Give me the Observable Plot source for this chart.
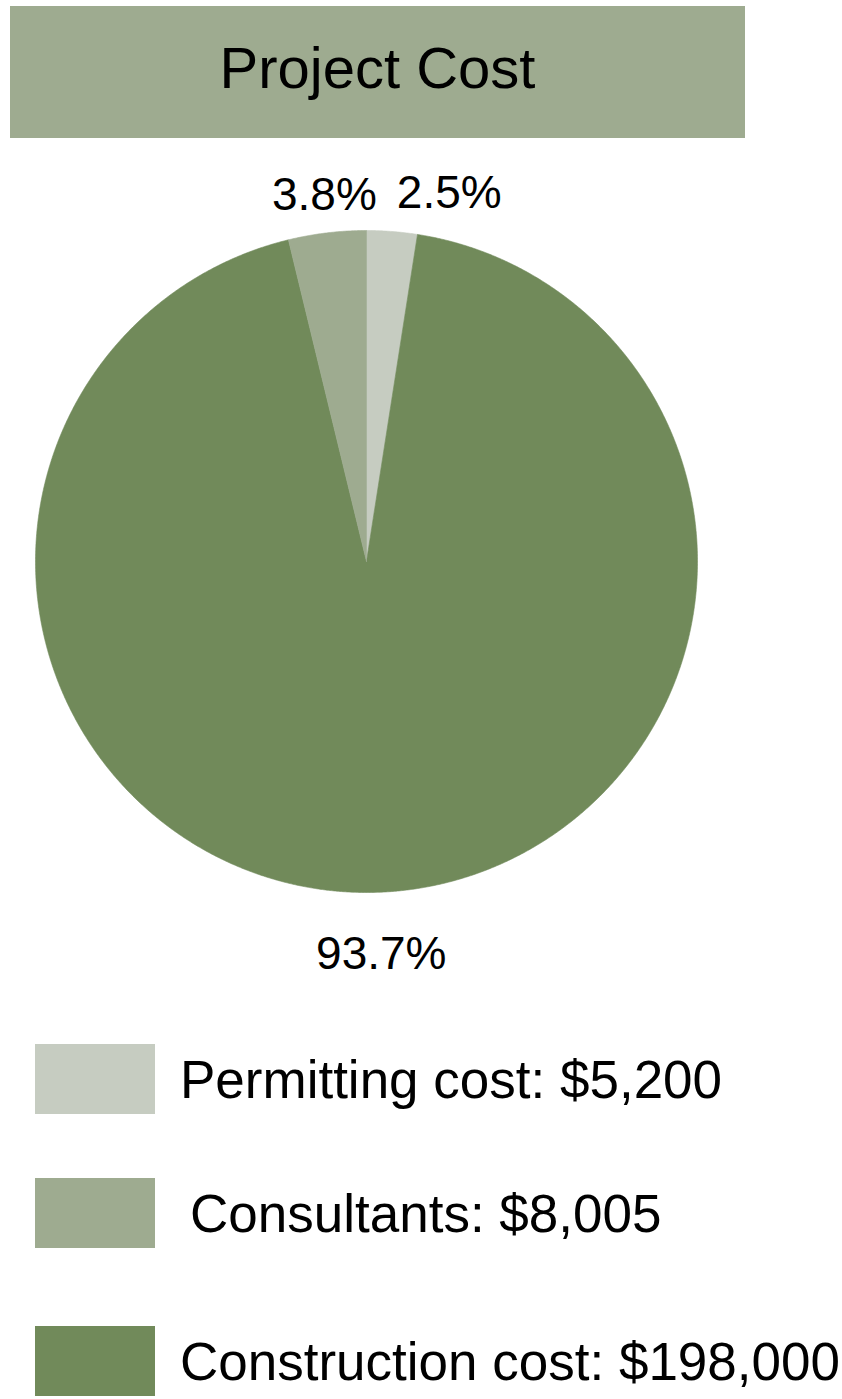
<!DOCTYPE html>
<html><head><meta charset="utf-8">
<script src="https://cdn.jsdelivr.net/npm/d3@7"></script>
<script src="https://cdn.jsdelivr.net/npm/@observablehq/plot@0.6"></script>
<style>
body{margin:0;background:#fff;font-family:"Liberation Sans",Arial,sans-serif;color:#000;}
#wrap{position:relative;width:842px;height:1399px;overflow:hidden;}
#title{position:absolute;left:10px;top:6px;width:735px;height:123px;padding-bottom:9px;background:#9eab90;display:flex;align-items:center;justify-content:center;font-size:58px;}
#chart{position:absolute;left:0;top:150px;}
.row{position:absolute;left:35px;display:flex;align-items:center;}
.sw{width:120px;height:70px;flex:none;}
.lab{font-size:53px;white-space:nowrap;line-height:1;}
</style></head><body>
<div id="wrap">
<div id="title"></div>
<div id="chart"></div>
<div id="legend"></div>
</div>
<script>
// ---- data ----
const title = "Project Cost";
const categories = ["Permitting cost", "Consultants", "Construction cost"];
const values = [5200, 8005, 198000];
const colors = ["#c6ccc1", "#9eab90", "#718a5a"];
const pieOrder = ["Permitting cost", "Construction cost", "Consultants"];

// ---- layout ----
const W = 842, H = 850, cx = 366, cy = 411, R = 331;
const labelR = 1.07, labelGap = 20, labelFont = 46;
const rowTops = [1044, 1178, 1326];
const rowIndent = [25, 35, 25];

document.getElementById("title").textContent = title;

const total = d3.sum(values);
let acc = 0;
const slices = pieOrder.map(c => {
  const i = categories.indexOf(c);
  const a0 = acc / total * 2 * Math.PI;
  acc += values[i];
  const a1 = acc / total * 2 * Math.PI;
  return {category: c, value: values[i], a0, a1, mid: (a0 + a1) / 2,
          label: (values[i] / total * 100).toFixed(1) + "%"};
});

// polygon outline of each slice (sampled arc)
const pts = slices.flatMap(s => {
  const n = Math.max(2, Math.ceil((s.a1 - s.a0) / (Math.PI / 720)));
  const arr = [{category: s.category, x: 0, y: 0}];
  for (let k = 0; k <= n; k++) {
    const a = s.a0 + (s.a1 - s.a0) * k / n;
    arr.push({category: s.category, x: Math.sin(a), y: Math.cos(a)});
  }
  arr.push({category: s.category, x: 0, y: 0});
  return arr;
});

// label positions with simple horizontal dodge
const ctx = document.createElement("canvas").getContext("2d");
ctx.font = `${labelFont}px "Liberation Sans"`;
const labels = slices.map(s => ({...s, lx: Math.sin(s.mid) * labelR, ly: Math.cos(s.mid) * labelR,
  w: ctx.measureText(s.label).width / R}));
const upper = labels.filter(d => d.ly >= 0).sort((a, b) => a.lx - b.lx);
for (let i = 1; i < upper.length; i++) {
  const p = upper[i - 1], c = upper[i];
  const minX = p.lx + p.w / 2 + labelGap / R + c.w / 2;
  if (c.lx < minX) c.lx = minX;
}
const lower = labels.filter(d => d.ly < 0);

const chart = Plot.plot({
  width: W, height: H, margin: 0,
  x: {domain: [-1, 1], range: [cx - R, cx + R], axis: null},
  y: {domain: [-1, 1], range: [cy + R, cy - R], axis: null},
  color: {domain: categories, range: colors},
  style: {fontFamily: '"Liberation Sans", Arial, sans-serif', background: "transparent", overflow: "visible"},
  marks: [
    Plot.line(pts, {x: "x", y: "y", z: "category", fill: "category", stroke: "category", strokeWidth: 0.6, curve: "linear"}),
    Plot.text(upper, {x: "lx", y: "ly", text: "label", lineAnchor: "bottom", fontSize: labelFont, fill: "#000"}),
    Plot.text(lower, {x: "lx", y: "ly", text: "label", lineAnchor: "top", fontSize: labelFont, dy: 21, fill: "#000"})
  ]
});
document.getElementById("chart").appendChild(chart);

const fmt = d3.format(",");
const legend = document.getElementById("legend");
categories.forEach((c, i) => {
  const row = document.createElement("div");
  row.className = "row";
  row.style.top = rowTops[i] + "px";
  const sw = document.createElement("div");
  sw.className = "sw";
  sw.style.background = chart.scale("color").apply(c);
  const lab = document.createElement("div");
  lab.className = "lab";
  lab.style.marginLeft = rowIndent[i] + "px";
  lab.textContent = `${c}: $${fmt(values[i])}`;
  row.appendChild(sw); row.appendChild(lab);
  legend.appendChild(row);
});
</script>
</body></html>
